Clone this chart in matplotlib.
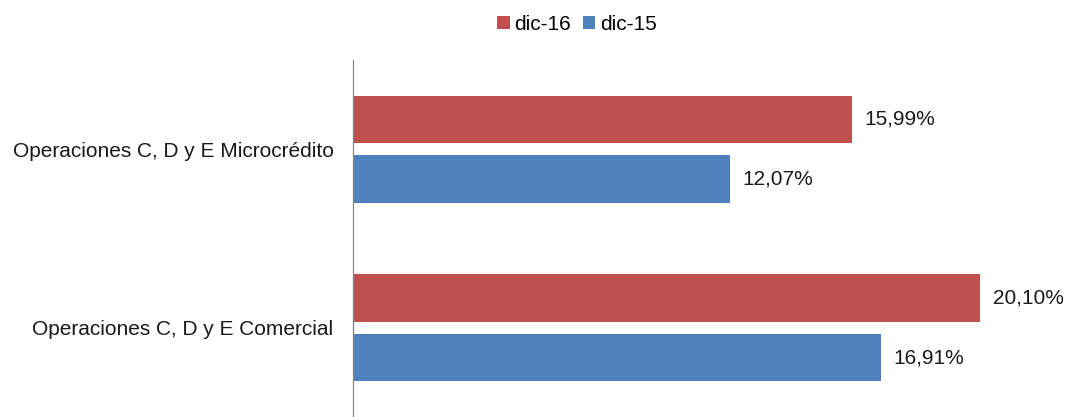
import numpy as np
import matplotlib.pyplot as plt

plt.rcParams['font.family'] = ['Liberation Sans', 'DejaVu Sans']

# Data
categories = ['Operaciones C, D y E Microcrédito', 'Operaciones C, D y E Comercial']
dic16 = [15.99, 20.10]
dic15 = [12.07, 16.91]
series_names = ['dic-16', 'dic-15']

RED = '#C0504D'
BLUE = '#4F81BD'
FS = 15


def fmt(v):
    return f'{v:.2f}'.replace('.', ',') + '%'


fig = plt.figure(figsize=(10.68, 4.17), dpi=100)
ax = fig.add_axes([353 / 1068, 0.0, 715 / 1068, 357 / 417])

y = np.arange(len(categories))
h = 0.267
off = 0.167
b16 = ax.barh(y - off, dic16, height=h, color=RED, label=series_names[0])
b15 = ax.barh(y + off, dic15, height=h, color=BLUE, label=series_names[1])

for bars, vals in ((b16, dic16), (b15, dic15)):
    for bar, v in zip(bars, vals):
        ax.text(v + 0.4, bar.get_y() + bar.get_height() / 2, fmt(v),
                va='center', ha='left', fontsize=FS, color='#1a1a1a')

ax.set_ylim(1.5, -0.5)
ax.set_xlim(0, 715 / 31.2)
ax.set_yticks(y)
ax.set_yticklabels(categories, fontsize=FS, color='#1a1a1a')
ax.tick_params(axis='y', length=0, pad=14)
ax.set_xticks([])
for s in ('top', 'right', 'bottom'):
    ax.spines[s].set_visible(False)
ax.spines['left'].set_color('#868686')
ax.spines['left'].set_linewidth(0.9)

fig.legend(handles=[b16, b15], loc='upper center', bbox_to_anchor=(0.54, 1.01),
           ncol=2, frameon=False, fontsize=FS, handlelength=0.6,
           handleheight=0.6, handletextpad=0.2, columnspacing=0.6)

fig.savefig('out.png', dpi=100)
